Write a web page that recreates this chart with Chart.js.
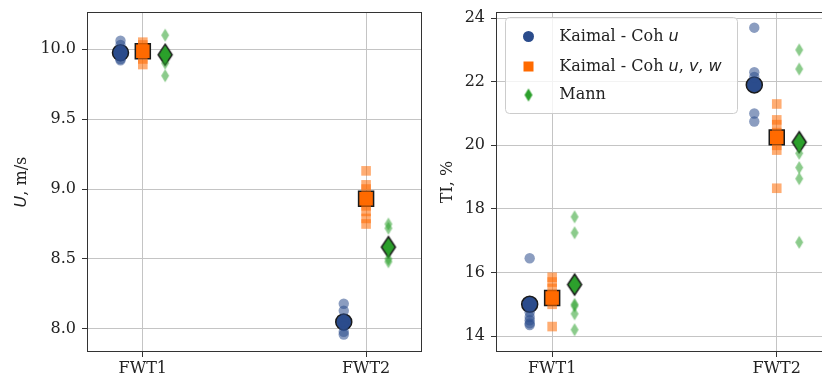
<!DOCTYPE html>
<html><head><meta charset="utf-8">
<script src="https://cdn.jsdelivr.net/npm/chart.js@4"></script>
<style>
html,body{margin:0;padding:0;width:822px;height:381px;overflow:hidden;background:#fff}
#c1{position:absolute;left:0;top:0}
#c2{position:absolute;left:430px;top:0}
</style></head><body>
<canvas id="c1" width="434" height="381"></canvas>
<canvas id="c2" width="415" height="381"></canvas>
<script>
// ---------- data ----------
const categories = ['FWT1', 'FWT2'];
const seriesNames = ['Kaimal - Coh u', 'Kaimal - Coh u, v, w', 'Mann'];

// mean wind speed U, m/s : individual samples per category
const uKaimalCohU    = [[10.06, 10.03, 9.98, 9.95, 9.93, 9.92], [8.18, 8.13, 8.06, 8.02, 7.98, 7.96]];
const uKaimalCohUVW  = [[10.05, 10.03, 10.00, 9.97, 9.93, 9.89], [9.13, 9.03, 9.00, 8.93, 8.88, 8.84, 8.79, 8.75]];
const uMann          = [[10.10, 9.98, 9.95, 9.90, 9.81], [8.75, 8.72, 8.59, 8.50, 8.48]];
// means
const uMeanKaimalCohU   = [9.975, 8.05];
const uMeanKaimalCohUVW = [9.985, 8.93];
const uMeanMann         = [9.96, 8.585];

// turbulence intensity TI, %
const tiKaimalCohU   = [[16.45, 14.75, 14.6, 14.5, 14.4, 14.35], [23.7, 22.3, 22.15, 21.0, 20.75]];
const tiKaimalCohUVW = [[15.85, 15.7, 15.5, 15.3, 15.0, 14.3], [21.3, 20.8, 20.65, 20.4, 20.0, 19.85, 18.65]];
const tiMann         = [[17.75, 17.25, 15.0, 14.95, 14.7, 14.2], [23.0, 22.4, 20.0, 19.75, 19.3, 18.95, 16.95]];
const tiMeanKaimalCohU   = [15.0, 21.9];
const tiMeanKaimalCohUVW = [15.2, 20.25];
const tiMeanMann         = [15.62, 20.1];

const uTicks  = [8.0, 8.5, 9.0, 9.5, 10.0];
const tiTicks = [14, 16, 18, 20, 22, 24];

// ---------- styles ----------
const FONT = 'DejaVu Serif';
const BLUE = '#2b4c8c', BLUE_A = 'rgba(43,76,140,0.55)';
const ORANGE = '#ff6a00', ORANGE_A = 'rgba(255,106,0,0.55)';
const GREEN = '#2ca02c', GREEN_A = 'rgba(44,160,44,0.55)';
const EDGE = '#1a1a1a';
const OFFS = [-0.1, 0, 0.1];

function makeDiamond(w, h, fill, stroke, lw) {
  const pad = Math.ceil(lw) + 1;
  const c = document.createElement('canvas');
  c.width = w + 2 * pad; c.height = h + 2 * pad;
  const g = c.getContext('2d');
  const cx = c.width / 2, cy = c.height / 2;
  g.beginPath();
  g.moveTo(cx, cy - h / 2); g.lineTo(cx + w / 2, cy); g.lineTo(cx, cy + h / 2); g.lineTo(cx - w / 2, cy); g.closePath();
  g.fillStyle = fill; g.fill();
  if (lw > 0) { g.lineWidth = lw; g.strokeStyle = stroke; g.stroke(); }
  return c;
}
const dSmall = makeDiamond(8, 13, GREEN_A, null, 0);
const dBig = makeDiamond(14, 21, GREEN, EDGE, 1.5);
const dLegend = makeDiamond(8, 13, GREEN, null, 0);

function pts(samples, off) {
  const out = [];
  samples.forEach((arr, ci) => arr.forEach(v => out.push({ x: ci + off, y: v })));
  return out;
}
function meanPts(means, off) { return means.map((v, ci) => ({ x: ci + off, y: v })); }

function buildDatasets(s1, s2, s3, m1, m2, m3) {
  return [
    { data: pts(s1, OFFS[0]), pointStyle: 'circle', pointRadius: 5.2, backgroundColor: BLUE_A, borderWidth: 0 },
    { data: pts(s2, OFFS[1]), pointStyle: 'rect', pointRadius: 6.8, backgroundColor: ORANGE_A, borderWidth: 0 },
    { data: pts(s3, OFFS[2]), pointStyle: dSmall, pointRadius: 6 },
    { data: meanPts(m1, OFFS[0]), pointStyle: 'circle', pointRadius: 8, backgroundColor: BLUE, borderColor: EDGE, borderWidth: 1.5 },
    { data: meanPts(m2, OFFS[1]), pointStyle: 'rect', pointRadius: 10.6, backgroundColor: ORANGE, borderColor: EDGE, borderWidth: 1.5 },
    { data: meanPts(m3, OFFS[2]), pointStyle: dBig, pointRadius: 10 }
  ];
}

const framePlugin = {
  id: 'frame',
  afterDraw(chart) {
    const a = chart.chartArea, g = chart.ctx;
    g.save(); g.strokeStyle = '#333'; g.lineWidth = 1;
    g.strokeRect(Math.round(a.left) + 0.5, Math.round(a.top) + 0.5, Math.round(a.right - a.left) - 1, Math.round(a.bottom - a.top) - 1);
    g.restore();
  }
};

function drawRichVertical(g, cx, cy, parts) {
  g.save();
  g.translate(cx, cy); g.rotate(-Math.PI / 2);
  let total = 0;
  parts.forEach(p => { g.font = p.font; total += g.measureText(p.t).width; });
  let x = -total / 2;
  g.textBaseline = 'middle'; g.textAlign = 'left'; g.fillStyle = '#222';
  parts.forEach(p => { g.font = p.font; g.fillText(p.t, x, 0); x += g.measureText(p.t).width; });
  g.restore();
}
function drawRich(g, x, y, parts) {
  g.save(); g.textBaseline = 'middle'; g.textAlign = 'left'; g.fillStyle = '#222';
  parts.forEach(p => { g.font = p.font; g.fillText(p.t, x, y); x += g.measureText(p.t).width; });
  g.restore();
}
const REG = '16px "' + FONT + '"';
const MATH = 'italic 16px "DejaVu Sans"';

function titlePlugin(cx, parts) {
  return {
    id: 'ytitle',
    afterDraw(chart) {
      const a = chart.chartArea;
      drawRichVertical(chart.ctx, cx, (a.top + a.bottom) / 2, parts);
    }
  };
}

const legendPlugin = {
  id: 'customLegend',
  afterDatasetsDraw(chart) {
    const g = chart.ctx;
    const bx = 75, by = 17, bw = 232, bh = 96;
    g.save();
    g.beginPath(); g.roundRect(bx + 0.5, by + 0.5, bw, bh, 4);
    g.fillStyle = 'rgba(255,255,255,0.8)'; g.fill();
    g.strokeStyle = '#cccccc'; g.lineWidth = 1; g.stroke();
    const mx = 98.5, tx = 129.3;
    const rows = [36.5, 66.5, 95];
    g.beginPath(); g.arc(mx, rows[0], 5.5, 0, Math.PI * 2); g.fillStyle = BLUE; g.fill();
    g.fillStyle = ORANGE; g.fillRect(mx - 5, rows[1] - 5, 10, 10);
    g.drawImage(dLegend, mx - dLegend.width / 2, rows[2] - dLegend.height / 2);
    g.restore();
    drawRich(g, tx, rows[0], [{ t: 'Kaimal - Coh ', font: REG }, { t: 'u', font: MATH }]);
    drawRich(g, tx, rows[1], [{ t: 'Kaimal - Coh ', font: REG }, { t: 'u', font: MATH }, { t: ', ', font: REG }, { t: 'v', font: MATH }, { t: ', ', font: REG }, { t: 'w', font: MATH }]);
    drawRich(g, tx, rows[2], [{ t: 'Mann', font: REG }]);
  }
};

function makeOptions(yMin, yMax, yTicks, fmt, yWidth, padRight) {
  return {
    responsive: false, animation: false, devicePixelRatio: 1,
    layout: { padding: { top: 12, right: padRight, left: 0, bottom: 0 } },
    plugins: { legend: { display: false }, tooltip: { enabled: false } },
    scales: {
      x: {
        type: 'linear', min: -0.25, max: 1.25,
        afterBuildTicks(s) { s.ticks = categories.map((c, i) => ({ value: i })); },
        afterFit(s) { s.height = 29; s.paddingLeft = 0; s.paddingRight = 0; s.paddingTop = 0; s.paddingBottom = 0; },
        ticks: { callback: v => categories[v], color: '#222', font: { family: FONT, size: 16 }, padding: 2, maxRotation: 0, autoSkip: false },
        grid: { color: '#c4c4c4', lineWidth: 1, tickColor: '#333', tickLength: 5 },
        border: { display: false }
      },
      y: {
        min: yMin, max: yMax,
        afterBuildTicks(s) { s.ticks = yTicks.map(v => ({ value: v })); },
        afterFit(s) { s.width = yWidth; s.paddingTop = 0; s.paddingBottom = 0; s.paddingLeft = 0; s.paddingRight = 0; },
        ticks: { callback: fmt, color: '#222', font: { family: FONT, size: 16 }, padding: 6 },
        grid: { color: '#c4c4c4', lineWidth: 1, tickColor: '#333', tickLength: 5 },
        border: { display: false }
      }
    }
  };
}

new Chart(document.getElementById('c1'), {
  type: 'scatter',
  data: { datasets: buildDatasets(uKaimalCohU, uKaimalCohUVW, uMann, uMeanKaimalCohU, uMeanKaimalCohUVW, uMeanMann) },
  options: makeOptions(7.835, 10.265, uTicks, v => Number(v).toFixed(1), 87, 9),
  plugins: [framePlugin, titlePlugin(22, [{ t: 'U', font: MATH }, { t: ', m/s', font: REG }])]
});

new Chart(document.getElementById('c2'), {
  type: 'scatter',
  data: { datasets: buildDatasets(tiKaimalCohU, tiKaimalCohUVW, tiMann, tiMeanKaimalCohU, tiMeanKaimalCohUVW, tiMeanMann) },
  options: makeOptions(13.5, 24.19, tiTicks, v => String(v), 66, 8),
  plugins: [framePlugin, legendPlugin, titlePlugin(18, [{ t: 'TI, %', font: REG }])]
});
</script>
</body></html>
